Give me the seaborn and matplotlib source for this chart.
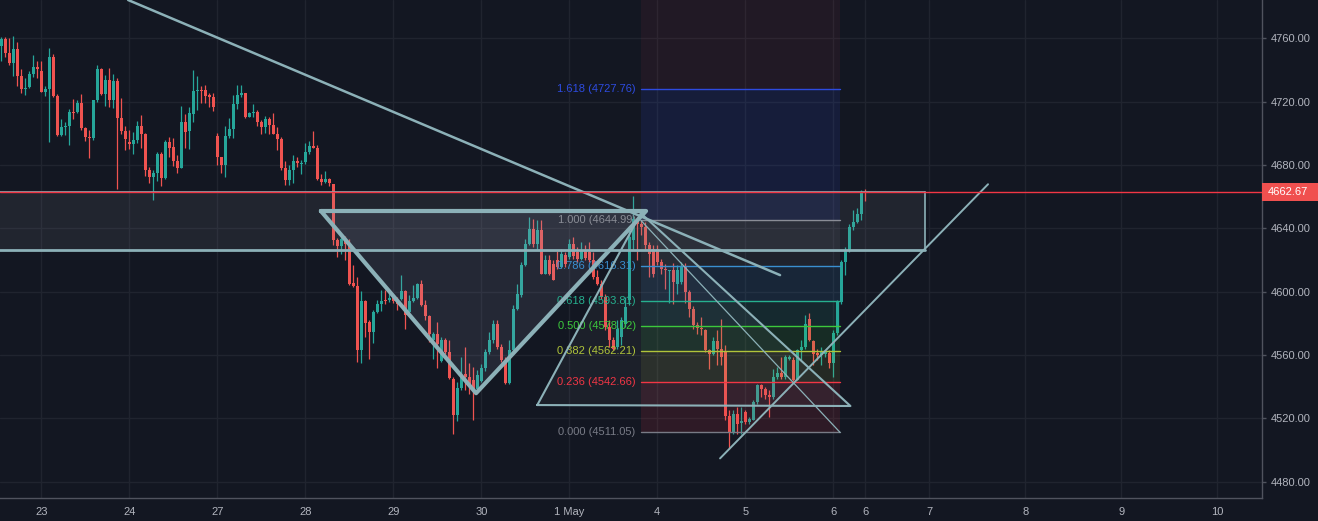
import matplotlib
matplotlib.use('Agg')
import matplotlib.pyplot as plt
from matplotlib.patches import Polygon, Rectangle
import seaborn as sns

# hourly candles (bar index = position)
opens = [4755.3, 4759.6, 4750.9, 4744.6, 4753.2, 4736.2, 4728.2, 4729.4, 4737.4, 4741.9,
         4739.3, 4726.3, 4727.9, 4748.2, 4723.5, 4698.8, 4704.1, 4704.7, 4713.6, 4713.4,
         4719.1, 4703.3, 4697.8, 4697.0, 4721.0, 4740.4, 4724.8, 4733.6, 4721.0, 4733.0,
         4709.8, 4701.6, 4694.4, 4693.2, 4695.7, 4704.5, 4699.7, 4676.7, 4672.5, 4675.0,
         4686.8, 4671.7, 4694.4, 4691.2, 4682.6, 4678.0, 4707.1, 4701.4, 4712.3, 4726.7,
         4727.3, 4727.3, 4724.3, 4723.1, 4698.2, 4684.7, 4680.1, 4698.2, 4702.6, 4718.4,
         4724.3, 4725.6, 4710.4, 4713.0, 4713.4, 4707.1, 4704.1, 4709.1, 4705.2, 4699.5,
         4696.3, 4677.8, 4670.4, 4676.7, 4682.6, 4680.9, 4681.7, 4688.1, 4691.9, 4690.6,
         4671.0, 4669.3, 4671.0, 4667.9, 4632.4, 4628.5, 4633.0, 4630.3, 4605.4, 4603.3,
         4562.9, 4594.1, 4580.6, 4574.5, 4587.0, 4591.9, 4594.5, 4594.9, 4597.0, 4594.1,
         4595.5, 4600.2, 4587.1, 4594.1, 4596.2, 4604.6, 4591.3, 4584.4, 4569.6, 4573.0,
         4556.1, 4569.6, 4561.8, 4544.9, 4521.8, 4539.3, 4547.7, 4546.0, 4543.9, 4538.6,
         4543.5, 4551.9, 4561.8, 4569.6, 4579.3, 4565.0, 4556.5, 4542.2, 4562.9, 4589.2,
         4597.6, 4616.6, 4630.3, 4639.8, 4629.9, 4639.2, 4611.3, 4619.8, 4617.7, 4620.2,
         4615.6, 4622.9, 4621.9, 4630.3, 4625.0, 4620.8, 4626.1, 4625.0, 4619.8, 4609.2,
         4605.0, 4596.6, 4577.6, 4569.2, 4565.0, 4571.3, 4579.7, 4594.5, 4632.4, 4646.1,
         4643.0, 4640.9, 4629.3, 4627.2, 4627.2, 4618.7, 4614.1, 4613.2, 4613.5, 4605.0,
         4606.1, 4615.6, 4599.7, 4589.2, 4578.7, 4577.0, 4575.9, 4562.9, 4560.8, 4568.8,
         4563.9, 4561.8, 4521.7, 4511.2, 4522.8, 4517.3, 4523.9, 4517.5, 4519.0, 4530.2,
         4540.7, 4538.6, 4534.4, 4533.4, 4546.0, 4548.5, 4546.0, 4557.6, 4556.9, 4544.3,
         4562.9, 4565.0, 4582.5, 4568.8, 4561.2, 4559.7, 4560.8, 4561.2, 4554.9, 4573.8,
         4593.4, 4618.7, 4626.1, 4640.9, 4644.0, 4649.3, 4663.0]
highs = [4760.6, 4761.0, 4760.0, 4761.5, 4757.4, 4740.4, 4734.7, 4739.5, 4749.4, 4745.6,
         4745.6, 4729.6, 4753.9, 4750.1, 4724.8, 4709.0, 4707.1, 4715.5, 4721.6, 4721.0,
         4724.6, 4704.1, 4702.0, 4721.0, 4743.1, 4741.2, 4736.6, 4741.2, 4737.4, 4735.1,
         4722.2, 4704.3, 4702.0, 4700.9, 4707.7, 4711.5, 4700.1, 4678.8, 4676.7, 4687.9,
         4688.1, 4695.7, 4697.6, 4696.9, 4686.0, 4717.2, 4712.1, 4716.8, 4740.0, 4736.0,
         4729.8, 4730.5, 4725.2, 4725.6, 4700.3, 4684.7, 4704.5, 4709.6, 4724.1, 4730.3,
         4730.5, 4725.6, 4713.4, 4718.4, 4714.6, 4708.7, 4710.8, 4710.0, 4712.5, 4703.7,
         4697.4, 4682.4, 4679.7, 4686.0, 4685.1, 4683.4, 4694.0, 4695.3, 4701.6, 4692.7,
         4674.2, 4676.3, 4671.6, 4667.9, 4634.0, 4635.0, 4635.0, 4633.5, 4616.6, 4609.2,
         4600.2, 4594.9, 4581.8, 4588.2, 4594.9, 4601.2, 4601.2, 4601.2, 4598.7, 4596.6,
         4610.3, 4600.8, 4597.6, 4604.0, 4605.4, 4607.5, 4594.5, 4585.0, 4574.5, 4580.8,
         4571.3, 4570.9, 4569.2, 4546.0, 4542.8, 4558.6, 4564.9, 4554.8, 4552.3, 4550.6,
         4554.4, 4563.9, 4574.5, 4582.3, 4581.8, 4567.1, 4558.6, 4569.6, 4591.3, 4605.0,
         4618.7, 4633.5, 4647.2, 4646.1, 4645.5, 4645.5, 4623.0, 4623.0, 4619.8, 4625.7,
         4627.2, 4625.0, 4633.5, 4634.5, 4628.2, 4631.4, 4629.3, 4631.4, 4625.0, 4613.5,
         4607.1, 4598.7, 4581.8, 4571.3, 4581.8, 4583.9, 4596.6, 4638.7, 4660.3, 4647.2,
         4645.5, 4644.0, 4631.4, 4629.3, 4629.3, 4620.8, 4617.7, 4613.9, 4618.1, 4616.6,
         4618.7, 4618.1, 4600.8, 4590.7, 4580.8, 4583.9, 4576.6, 4563.9, 4571.3, 4575.5,
         4582.9, 4566.0, 4524.9, 4524.9, 4527.0, 4527.0, 4524.9, 4520.7, 4531.2, 4541.8,
         4541.8, 4539.7, 4537.6, 4551.3, 4552.3, 4558.6, 4559.7, 4559.7, 4558.6, 4563.9,
         4569.2, 4585.0, 4586.5, 4569.6, 4563.9, 4565.0, 4562.9, 4562.9, 4575.5, 4594.5,
         4619.8, 4628.2, 4643.0, 4651.8, 4652.5, 4664.0, 4664.5]
lows = [4745.9, 4748.4, 4743.1, 4736.4, 4730.0, 4725.2, 4724.1, 4728.8, 4735.7, 4734.7,
        4725.8, 4723.7, 4694.6, 4723.1, 4698.4, 4698.2, 4698.8, 4692.5, 4708.8, 4712.8,
        4702.0, 4695.3, 4684.3, 4695.7, 4719.9, 4724.4, 4717.2, 4716.8, 4715.9, 4664.7,
        4699.5, 4689.4, 4690.0, 4686.8, 4694.0, 4690.6, 4673.3, 4668.3, 4657.7, 4670.0,
        4666.8, 4671.2, 4685.2, 4679.4, 4675.0, 4678.0, 4690.6, 4690.0, 4707.0, 4714.7,
        4719.3, 4719.3, 4716.8, 4714.2, 4680.1, 4675.2, 4672.5, 4696.9, 4696.9, 4715.3,
        4723.1, 4709.4, 4710.0, 4710.4, 4704.9, 4699.5, 4699.9, 4699.5, 4699.5, 4689.4,
        4676.7, 4667.4, 4667.4, 4668.9, 4678.4, 4674.2, 4680.9, 4687.2, 4690.8, 4670.4,
        4667.2, 4668.7, 4667.0, 4629.3, 4622.0, 4624.0, 4620.0, 4604.0, 4602.9, 4555.5,
        4554.9, 4571.3, 4557.6, 4567.5, 4586.5, 4587.7, 4591.9, 4593.4, 4592.8, 4588.6,
        4594.5, 4576.6, 4586.0, 4593.5, 4595.5, 4590.7, 4582.3, 4568.1, 4557.6, 4551.9,
        4555.5, 4560.3, 4544.9, 4510.2, 4518.2, 4537.6, 4537.6, 4535.5, 4518.6, 4537.2,
        4543.0, 4549.8, 4560.8, 4567.5, 4563.9, 4555.5, 4541.4, 4541.4, 4560.8, 4588.2,
        4596.6, 4616.0, 4629.3, 4628.2, 4626.1, 4610.9, 4610.9, 4610.3, 4607.1, 4614.5,
        4615.2, 4615.6, 4620.8, 4620.8, 4618.7, 4619.8, 4619.8, 4618.7, 4608.2, 4604.0,
        4595.5, 4575.5, 4565.0, 4562.9, 4563.9, 4566.0, 4577.6, 4591.3, 4626.1, 4619.8,
        4635.6, 4626.1, 4609.2, 4609.2, 4616.6, 4611.3, 4601.8, 4592.8, 4592.4, 4598.7,
        4605.0, 4592.8, 4583.9, 4576.6, 4573.4, 4572.3, 4561.8, 4551.3, 4559.7, 4553.4,
        4553.4, 4518.6, 4500.7, 4510.2, 4510.2, 4510.2, 4516.5, 4516.5, 4518.6, 4529.1,
        4533.4, 4532.3, 4520.7, 4532.3, 4545.0, 4545.0, 4545.0, 4556.5, 4543.5, 4543.9,
        4556.5, 4563.9, 4568.8, 4553.4, 4556.5, 4553.4, 4558.6, 4551.9, 4546.0, 4572.3,
        4592.4, 4610.3, 4625.0, 4638.7, 4643.4, 4645.1, 4657.3]
closes = [4759.6, 4750.9, 4744.6, 4753.2, 4736.4, 4727.9, 4728.6, 4737.4, 4741.9, 4740.6,
          4726.3, 4727.9, 4748.2, 4723.5, 4698.8, 4703.9, 4704.7, 4713.4, 4713.0, 4719.1,
          4703.3, 4697.6, 4697.2, 4721.0, 4740.4, 4724.8, 4733.6, 4721.0, 4733.0, 4709.8,
          4701.6, 4696.3, 4693.2, 4695.7, 4704.5, 4699.7, 4676.7, 4672.5, 4674.6, 4686.8,
          4671.7, 4694.4, 4691.0, 4682.4, 4678.0, 4707.1, 4700.7, 4712.5, 4726.7, 4727.3,
          4726.7, 4723.5, 4722.7, 4716.8, 4685.1, 4680.1, 4698.2, 4702.6, 4718.4, 4724.3,
          4725.6, 4710.4, 4713.0, 4713.4, 4707.1, 4703.9, 4709.1, 4705.2, 4699.5, 4696.3,
          4677.8, 4670.4, 4676.7, 4682.4, 4681.3, 4681.3, 4688.1, 4691.9, 4690.8, 4670.8,
          4669.5, 4671.0, 4668.3, 4632.4, 4628.5, 4633.0, 4630.3, 4605.0, 4603.3, 4562.9,
          4594.1, 4580.2, 4574.5, 4587.0, 4591.9, 4594.1, 4594.1, 4596.2, 4594.1, 4592.4,
          4600.2, 4585.0, 4594.1, 4596.2, 4604.6, 4591.3, 4584.4, 4573.0, 4573.0, 4567.1,
          4569.6, 4561.8, 4545.6, 4521.8, 4539.3, 4546.0, 4546.0, 4541.8, 4538.6, 4547.0,
          4551.9, 4561.8, 4569.6, 4579.3, 4565.0, 4556.5, 4542.2, 4562.9, 4589.2, 4598.3,
          4616.6, 4630.3, 4639.8, 4629.9, 4639.2, 4611.3, 4619.8, 4611.3, 4607.6, 4615.6,
          4624.0, 4617.7, 4630.3, 4622.3, 4620.8, 4626.1, 4621.5, 4619.8, 4609.2, 4605.0,
          4596.6, 4577.6, 4569.2, 4563.9, 4576.6, 4581.8, 4590.3, 4634.5, 4646.1, 4643.0,
          4640.9, 4629.3, 4624.0, 4611.3, 4618.7, 4614.5, 4613.5, 4613.7, 4606.1, 4613.5,
          4615.6, 4599.7, 4589.2, 4578.7, 4577.2, 4576.4, 4562.9, 4560.8, 4568.8, 4563.9,
          4558.6, 4521.7, 4511.2, 4522.4, 4516.5, 4517.9, 4517.5, 4519.2, 4530.2, 4540.7,
          4538.6, 4534.4, 4533.4, 4546.0, 4548.5, 4546.0, 4558.6, 4558.6, 4544.3, 4562.9,
          4565.0, 4579.3, 4569.2, 4560.8, 4559.7, 4561.6, 4561.8, 4554.9, 4573.8, 4593.4,
          4618.7, 4626.1, 4640.9, 4644.0, 4649.3, 4663.0, 4662.67]

day_ticks = [10, 32, 54, 76, 98, 120, 142, 164, 186, 208, 216, 232, 256, 280, 304]
day_labels = ['23', '24', '27', '28', '29', '30', '1 May', '4', '5', '6', '6', '7', '8', '9', '10']
price_ticks = [4480, 4520, 4560, 4600, 4640, 4680, 4720, 4760]
last_price = 4662.67

# fibonacci retracement (bars 160 -> 210)
fib_x = [159.9, 209.7]
fib_ratios = [0.0, 0.236, 0.382, 0.5, 0.618, 0.786, 1.0, 1.618, 2.618]
fib_values = [4511.05, 4542.66, 4562.21, 4578.02, 4593.81, 4616.31, 4644.99, 4727.76, 4861.70]
fib_colors = ['#787b86', '#f23645', '#b0c43a', '#3cc83c', '#26b08f', '#3a8fd0', '#8a8d96', '#2d4be0', '#c8384a']
fib_alpha = [0, 0.12, 0.11, 0.12, 0.12, 0.13, 0.1, 0.13, 0.08]

# drawing anchors (bar, price)
trend_x, trend_y = [31.7, 194.7], [4784.2, 4610.4]
v_x, v_y = [79.9, 118.7, 161.2], [4650.9, 4535.8, 4650.9]
wedge_x, wedge_y = [134.0, 159.9, 212.3], [4528.3, 4649.5, 4527.7]
rise_x, rise_y = [179.7, 246.7], [4494.6, 4667.8]
zone_x, zone_y = [-1.0, 230.9], [4626.4, 4663.1]

BG = '#131722'
UP, DOWN = '#26a69a', '#ef5350'
DRAW = '#8cb1b8'
TXT = '#b2b5be'

sns.set_style('dark', {'axes.facecolor': BG, 'figure.facecolor': BG})
plt.rcParams['font.family'] = ['Liberation Sans', 'DejaVu Sans']

fig = plt.figure(figsize=(13.18, 5.21), dpi=100)
ax = fig.add_axes([0, 23.5 / 521, 1262 / 1318, 497.5 / 521])
ax.set_facecolor(BG)

x = list(range(len(opens)))
cols = [UP if c >= o else DOWN for o, c in zip(opens, closes)]
bottoms, heights = [], []
for o, c in zip(opens, closes):
    h = abs(c - o)
    lo = min(o, c)
    if h < 0.65:
        lo = (o + c) / 2 - 0.33
        h = 0.65
    bottoms.append(lo)
    heights.append(h)

ax.vlines(x, lows, highs, colors=cols, linewidth=0.9, zorder=3)
ax.bar(x, heights, bottom=bottoms, width=0.74, color=cols, linewidth=0, zorder=4)

# grid
for t in day_ticks:
    ax.axvline(t, color='#20242f', lw=1, zorder=0)
for p in price_ticks:
    ax.axhline(p, color='#20242f', lw=1, zorder=0)

# zone rectangle
ax.add_patch(Rectangle((zone_x[0], zone_y[0]), zone_x[1] - zone_x[0], zone_y[1] - zone_y[0],
                       facecolor='#9598a1', alpha=0.11, edgecolor='none', zorder=5))
ax.plot([zone_x[0], zone_x[1]], [zone_y[0], zone_y[0]], color=DRAW, lw=2.0, zorder=8)
ax.plot([zone_x[1], zone_x[1]], [zone_y[0], zone_y[1]], color=DRAW, lw=1.2, zorder=8)
ax.plot([zone_x[0], zone_x[1]], [zone_y[1], zone_y[1]], color=DRAW, lw=1.2, zorder=8)

# fib fills, levels, labels
for k in range(1, len(fib_values)):
    ax.fill_between(fib_x, fib_values[k - 1], fib_values[k], color=fib_colors[k],
                    alpha=fib_alpha[k], linewidth=0, zorder=5)
for r, v, c in zip(fib_ratios, fib_values, fib_colors):
    if v > 4780:
        continue
    ax.plot(fib_x, [v, v], color=c, lw=1.0, zorder=6)
    ax.text(fib_x[0] - 1.3, v, f'{r:.3f} ({v:.2f})', color=c, fontsize=8,
            ha='right', va='center', zorder=7)
ax.plot(fib_x, [fib_values[6], fib_values[0]], color=DRAW, lw=0.9, zorder=8)

# triangle pattern (V) with fill
ax.add_patch(Polygon(list(zip(v_x, v_y)), closed=True, facecolor='#a3a6c4',
                     alpha=0.12, edgecolor='none', zorder=5))
sns.lineplot(x=v_x + [v_x[0]], y=v_y + [v_y[0]], sort=False, estimator=None,
             color=DRAW, lw=3.0, ax=ax, zorder=9)

# wedge triangle
ax.add_patch(Polygon(list(zip(wedge_x, wedge_y)), closed=True, facecolor='#9598a1',
                     alpha=0.07, edgecolor='none', zorder=5))
sns.lineplot(x=wedge_x + [wedge_x[0]], y=wedge_y + [wedge_y[0]], sort=False, estimator=None,
             color=DRAW, lw=1.5, ax=ax, zorder=9)

# trend lines
sns.lineplot(x=trend_x, y=trend_y, sort=False, estimator=None, color=DRAW, lw=1.8, ax=ax, zorder=9)
sns.lineplot(x=rise_x, y=rise_y, sort=False, estimator=None, color=DRAW, lw=1.4, ax=ax, zorder=9)

# last price line and label
ax.axhline(last_price, color='#f23645', lw=1.0, zorder=10)
tr = ax.get_yaxis_transform()
ax.add_patch(Rectangle((1.0, last_price - 5.7), 56 / 1262, 11.4, transform=tr,
                       facecolor='#f0504f', edgecolor='none', clip_on=False, zorder=11))
ax.text(1.0 + 6 / 1262, last_price, f'{last_price:.2f}', transform=tr, color='white',
        fontsize=8, ha='left', va='center', clip_on=False, zorder=12)

ax.set_xlim(-0.33, 315.2)
ax.set_ylim(4469.9, 4784.2)
ax.set_xticks(day_ticks)
ax.set_xticklabels(day_labels)
ax.set_yticks(price_ticks)
ax.set_yticklabels([f'{p:.2f}' for p in price_ticks])
ax.yaxis.tick_right()
ax.tick_params(axis='both', colors='#50535e', labelcolor=TXT, labelsize=8,
               length=3, width=1, direction='out')
ax.tick_params(axis='y', pad=3)
ax.tick_params(axis='x', pad=4)
ax.grid(False)
for side in ['left', 'top']:
    ax.spines[side].set_visible(False)
for side in ['right', 'bottom']:
    ax.spines[side].set_visible(True)
    ax.spines[side].set_color('#50535e')
    ax.spines[side].set_linewidth(1)
ax.set_xlabel('')
ax.set_ylabel('')
if ax.get_legend():
    ax.get_legend().remove()

fig.savefig('out.png', dpi=100, facecolor=BG)
